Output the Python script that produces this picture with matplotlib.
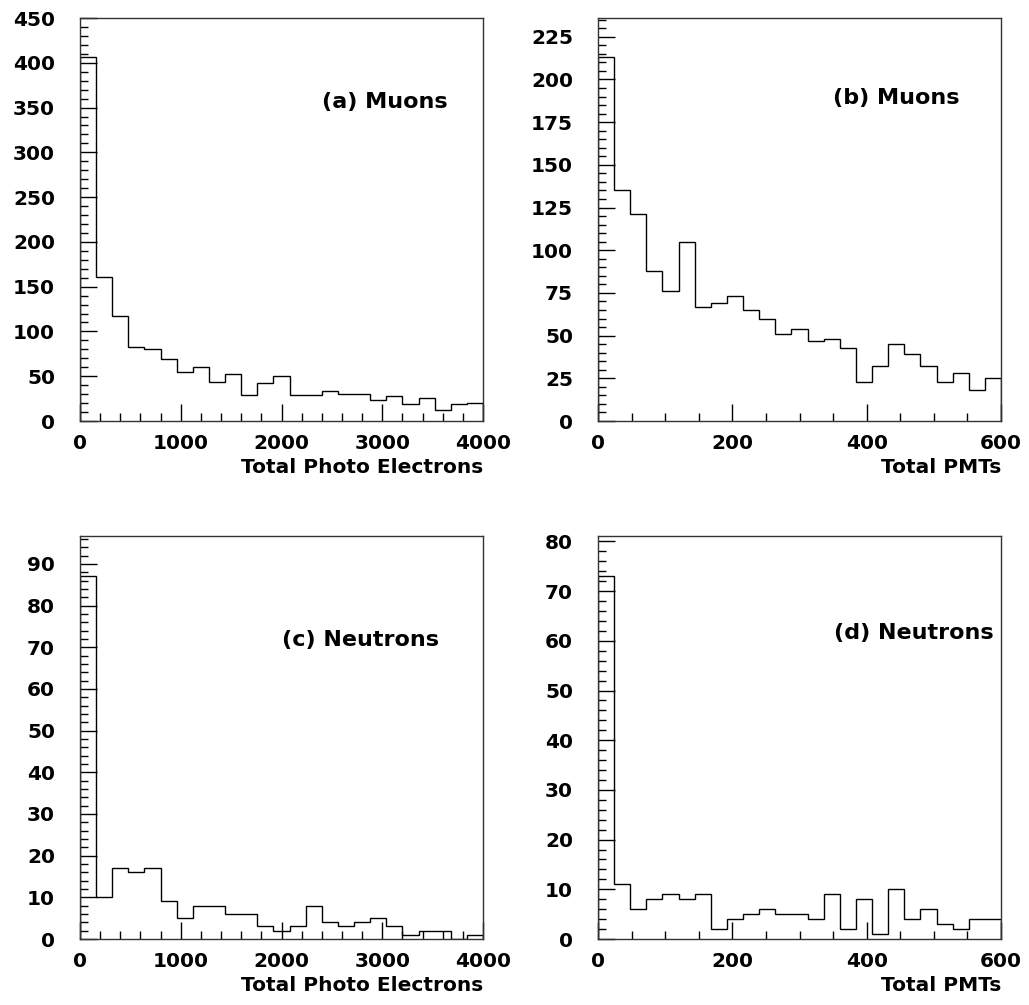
import numpy as np
import matplotlib
matplotlib.use("Agg")
import matplotlib.pyplot as plt
from matplotlib.ticker import MultipleLocator

# ---- data ----
pe_edges = np.arange(0, 4001, 160)          # 25 bins, Total Photo Electrons
pmt_edges = np.arange(0, 601, 24)           # 25 bins, Total PMTs

muon_pe = [406, 161, 117, 83, 80, 69, 55, 60, 43, 53, 29, 42, 50,
           29, 29, 33, 30, 30, 23, 28, 19, 26, 12, 19, 20]
muon_pmt = [213, 135, 121, 88, 76, 105, 67, 69, 73, 65, 60, 51, 54,
            47, 48, 43, 23, 32, 45, 39, 32, 23, 28, 18, 25]
neutron_pe = [87, 10, 17, 16, 17, 9, 5, 8, 8, 6, 6, 3, 2,
              3, 8, 4, 3, 4, 5, 3, 1, 2, 2, 0, 1]
neutron_pmt = [73, 11, 6, 8, 9, 8, 9, 2, 4, 5, 6, 5, 5,
               4, 9, 2, 8, 1, 10, 4, 6, 3, 2, 4, 4]

labels = ["(a) Muons", "(b) Muons", "(c) Neutrons", "(d) Neutrons"]
xlabels = ["Total Photo Electrons", "Total PMTs",
           "Total Photo Electrons", "Total PMTs"]

# ---- layout ----
W, H = 1029, 1005
fig = plt.figure(figsize=(W / 100, H / 100), dpi=100)
plt.rcParams['font.family'] = ['DejaVu Sans']

def px_axes(l, t, r, b):
    return fig.add_axes([l / W, 1 - b / H, (r - l) / W, (b - t) / H])

panels = [
    dict(box=(80, 18, 483, 421), edges=pe_edges, vals=muon_pe, ymax=450,
         xmaj=1000, xmin=200, ymaj=50, ymin=10, txt=(2400, 356)),
    dict(box=(598, 18, 1001, 421), edges=pmt_edges, vals=muon_pmt, ymax=236,
         xmaj=200, xmin=50, ymaj=25, ymin=5, txt=(350, 189)),
    dict(box=(80, 536, 483, 939), edges=pe_edges, vals=neutron_pe, ymax=96.7,
         xmaj=1000, xmin=200, ymaj=10, ymin=2, txt=(2005, 71.7)),
    dict(box=(598, 536, 1001, 939), edges=pmt_edges, vals=neutron_pmt, ymax=81.1,
         xmaj=200, xmin=50, ymaj=10, ymin=2, txt=(352, 61.6)),
]

for p, lab, xl in zip(panels, labels, xlabels):
    ax = px_axes(*p['box'])
    ax.stairs(p['vals'], p['edges'], baseline=0, color='black', lw=1.0)
    ax.set_xlim(p['edges'][0], p['edges'][-1])
    ax.set_ylim(0, p['ymax'])
    ax.xaxis.set_major_locator(MultipleLocator(p['xmaj']))
    ax.xaxis.set_minor_locator(MultipleLocator(p['xmin']))
    ax.yaxis.set_major_locator(MultipleLocator(p['ymaj']))
    ax.yaxis.set_minor_locator(MultipleLocator(p['ymin']))
    ax.tick_params(which='both', direction='in', top=False, right=False,
                   width=1.0, color='black')
    ax.tick_params(which='major', length=12, labelsize=14.5)
    ax.tick_params(axis='y', which='major', pad=18)
    ax.tick_params(axis='x', which='major', pad=9)
    ax.tick_params(which='minor', length=5.5)
    for lbl in ax.get_xticklabels() + ax.get_yticklabels():
        lbl.set_fontweight('bold')
    for s in ax.spines.values():
        s.set_linewidth(1.0)
        s.set_color('#333333')
    ax.set_xlabel(xl, fontsize=14.5, fontweight='bold', loc='right', labelpad=4)
    ax.text(p['txt'][0], p['txt'][1], lab, fontsize=16, fontweight='bold',
            ha='left', va='center')

fig.savefig("out.png", dpi=100)
